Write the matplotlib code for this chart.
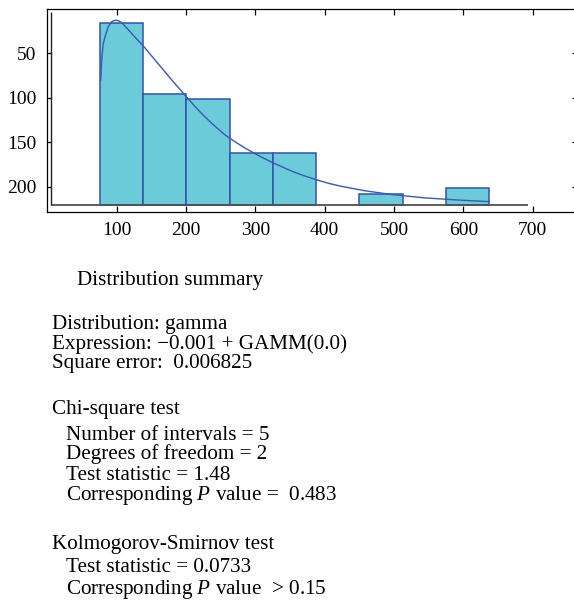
import matplotlib
matplotlib.use('Agg')
import matplotlib.pyplot as plt

plt.rcParams['font.family'] = ['Liberation Serif', 'DejaVu Serif']
plt.rcParams['mathtext.fontset'] = 'custom'
plt.rcParams['mathtext.rm'] = 'Liberation Serif'
plt.rcParams['mathtext.it'] = 'Liberation Serif:italic'

# histogram bins (left edge) and bar tops, read in the axis units of the picture
bin_width = 62.4
bar_left = [75.5, 137.9, 200.3, 262.7, 325.1, 449.9, 574.7]
bar_top = [15.3, 95.6, 101.7, 161.6, 161.6, 208.5, 201.8]
baseline = 221.1

# fitted gamma density as drawn
curve_x = [76.9, 78.3, 80.2, 83.1, 87.8, 92.7, 95.5, 98.9, 103.0, 107.2, 111.5, 116.7,
           127.0, 138.3, 151.0, 164.9, 180.0, 196.0, 212.9, 225.0, 237.0, 256.2, 270.6,
           285.0, 299.4, 312.0, 325.8, 352.4, 370.0, 388.4, 406.0, 424.5, 458.1, 496.6,
           544.6, 592.7, 637.4]
curve_y = [80.0, 57.5, 40.6, 31.3, 20.0, 14.4, 13.3, 12.8, 13.5, 15.5, 19.0, 23.5,
           32.3, 41.7, 53.5, 66.5, 80.5, 94.9, 109.8, 119.8, 128.7, 141.8, 149.5,
           156.5, 162.8, 168.0, 173.3, 182.5, 187.6, 192.3, 196.3, 199.7, 204.6, 208.8,
           212.6, 215.0, 216.8]

xticks = [100, 200, 300, 400, 500, 600, 700]
yticks = [50, 100, 150, 200]

summary = [
    ('Distribution summary', 77.3, 285),
    ('Distribution: gamma', 51.7, 328.5),
    ('Expression: \u22120.001 + GAMM(0.0)', 51.7, 348.5),
    ('Square error:  0.006825', 51.7, 368),
    ('Chi-square test', 51.7, 414),
    ('Number of intervals = 5', 66, 440),
    ('Degrees of freedom = 2', 66, 459.5),
    ('Test statistic = 1.48', 66, 480),
    ('Corresponding $P$ value =  0.483', 66, 500),
    ('Kolmogorov-Smirnov test', 51.7, 549),
    ('Test statistic = 0.0733', 66, 572),
    ('Corresponding $P$ value  > 0.15', 66, 594),
]

W, H = 574, 601
fig = plt.figure(figsize=(W / 100, H / 100), dpi=100)
ax = fig.add_axes([47.4 / W, 1 - 211.5 / H, 532.5 / W, 202.6 / H])

heights = [t - baseline for t in bar_top]
ax.bar(bar_left, heights, width=bin_width, bottom=baseline, align='edge',
       color='#6bcbd9', edgecolor='#3452ac', linewidth=1.1, zorder=2)
ax.plot(curve_x, curve_y, color='#3a58b5', linewidth=1.0, zorder=3,
        solid_joinstyle='round')

# inner axis lines
ax.plot([4.9, 693.6], [baseline, baseline], color='#505050', linewidth=1.3, zorder=4,
        solid_capstyle='butt')
ax.plot([4.9, 4.9], [3.5, baseline], color='#222222', linewidth=1.0, zorder=4,
        solid_capstyle='butt')

ax.set_xlim(0, 768)
ax.set_ylim(227.9, 0)
ax.set_xticks(xticks)
ax.set_yticks(yticks)
ax.tick_params(axis='x', direction='in', top=True, bottom=True, length=4.0, width=0.9,
               labelsize=14, pad=7.5)
ax.tick_params(axis='y', direction='in', left=True, right=True, length=2.6, width=0.9,
               labelsize=14, pad=8)
for t in ax.yaxis.get_major_ticks():
    t.tick2line.set_markersize(6)
for s in ax.spines.values():
    s.set_linewidth(0.9)

for txt, x, y in summary:
    fig.text(x / W, 1 - y / H, txt, fontsize=15.2, va='baseline', ha='left')

fig.savefig('out.png', dpi=100)
